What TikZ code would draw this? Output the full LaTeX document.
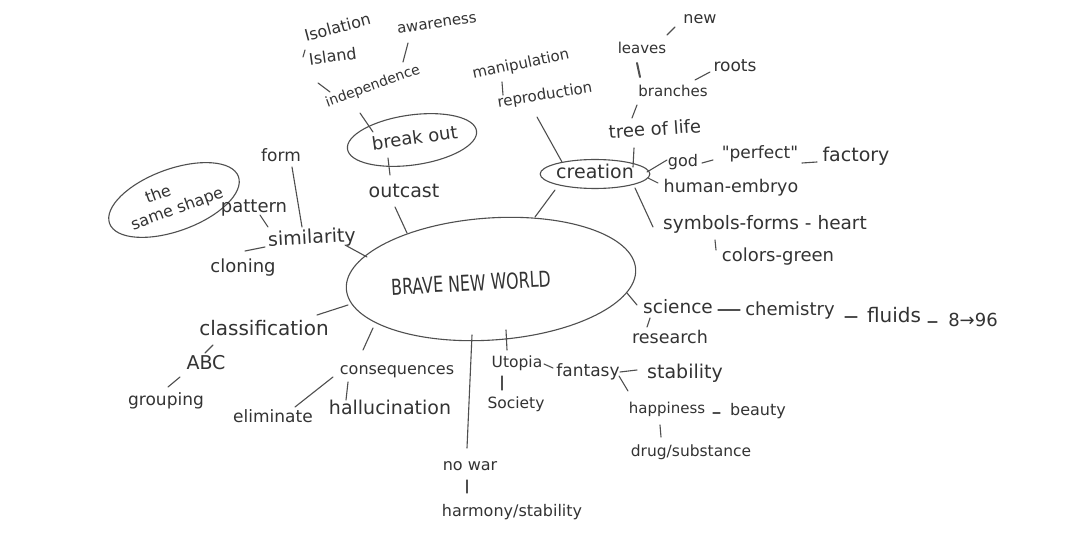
\documentclass[tikz,border=0pt]{standalone}
\usepackage{fontspec}
\setmainfont{DejaVu Sans}
\usetikzlibrary{shapes.geometric,calc}
\definecolor{ink}{HTML}{333333}
\definecolor{pen}{HTML}{4F4F4F}
\begin{document}
\begin{tikzpicture}[x=1pt,y=-1pt,
  lbl/.style={inner sep=1pt, text=ink},
  fs/.style={font=\fontsize{#1}{#1}\selectfont, text height={#1*0.72}, text depth={#1*0.22}},
  con/.style={draw=pen, line width=1.1pt, line cap=round},
  bubble/.style={draw=pen, line width=1.1pt, ellipse, inner sep=0pt, text=ink}
]
\fill[white] (0,0) rectangle (1080,540);
\useasboundingbox (0,0) rectangle (1080,540);

% central node
\node[bubble, minimum width=290pt, minimum height=122pt, rotate=4] (bnw) at (491,279) {};
\node[lbl, rotate=3, font=\fontsize{22}{22}\selectfont\addfontfeature{FakeStretch=0.72}] (bnwt) at (471,283) {BRAVE NEW WORLD};

% upper left
\node[lbl, fs=16, rotate=15] (iso) at (338,29) {Isolation};
\node[lbl, fs=16, rotate=8] (isl) at (333,58) {Island};
\node[lbl, fs=15, rotate=8] (aware) at (437,24) {awareness};
\node[lbl, fs=14, rotate=20] (indep) at (373,87) {independence};
\node[bubble, fs=18, minimum width=122pt, minimum height=50pt, rotate=8] (brk) at (412,140) {\hspace*{6pt}break out};
\node[lbl, fs=19] (out) at (404,193) {outcast};

% left
\node[lbl, fs=17] (form) at (281,157) {form};
\node[bubble, minimum width=130pt, minimum height=62pt, rotate=20, align=center, font=\fontsize{16}{20}\selectfont] (same) at (174,200) {the\hspace*{26pt}\\same shape};
\node[lbl, fs=18] (pat) at (254,208) {pattern};
\node[lbl, fs=19, rotate=3] (sim) at (312,239) {similarity};
\node[lbl, fs=18] (clon) at (243,268) {cloning};
\node[lbl, fs=20] (cls) at (264,330) {classification};
\node[lbl, fs=19] (abc) at (206,365) {ABC};
\node[lbl, fs=17] (grp) at (166,401) {grouping};

% lower
\node[lbl, fs=16] (cons) at (397,370) {consequences};
\node[lbl, fs=17] (elim) at (273,418) {eliminate};
\node[lbl, fs=19] (hall) at (390,410) {hallucination};
\node[lbl, fs=16] (nowar) at (470,466) {no war};
\node[lbl, fs=16] (harm) at (512,512) {harmony/stability};
\node[lbl, fs=15.5] (uto) at (517,364) {Utopia};
\node[lbl, fs=15.5] (soc) at (516,405) {Society};
\node[lbl, fs=17] (fan) at (588,372) {fantasy};
\node[lbl, fs=19] (stab) at (685,374) {stability};
\node[lbl, fs=15] (hap) at (667,410) {happiness};
\node[lbl, fs=16] (beauty) at (758,411) {beauty};
\node[lbl, fs=15.5] (drug) at (691,453) {drug/substance};

% right
\node[lbl, fs=18.5] (sci) at (678,309) {science};
\node[lbl, fs=17.5] (res) at (670,339) {research};
\node[lbl, fs=18] (chem) at (790,311) {chemistry};
\node[lbl, fs=20] (flu) at (894,318) {fluids};
\node[lbl, fs=18] (num) at (973,322) {8→96};

% upper right
\node[lbl, fs=15, rotate=12] (manip) at (521,65) {manipulation};
\node[lbl, fs=15, rotate=9] (repro) at (545,96) {reproduction};
\node[bubble, fs=19, minimum width=105pt, minimum height=29pt] (crea) at (595,174) {creation};
\node[lbl, fs=15] (leaves) at (642,50) {leaves};
\node[lbl, fs=16] (new) at (700,20) {new};
\node[lbl, fs=17] (roots) at (735,67) {roots};
\node[lbl, fs=15] (branch) at (673,93) {branches};
\node[lbl, fs=18, rotate=4] (tree) at (655,131) {tree of life};
\node[lbl, fs=16] (god) at (683,163) {god};
\node[lbl, fs=17] (perf) at (760,154) {\textquotedbl perfect\textquotedbl};
\node[lbl, fs=19] (fact) at (856,157) {factory};
\node[lbl, fs=17.5] (human) at (731,188) {human-embryo};
\node[lbl, fs=18.5] (sym) at (765,225) {symbols-forms - heart};
\node[lbl, fs=18] (col) at (778,257) {colors-green};

% connectors
\draw[con] ($(iso)+(-33,21)$) -- ($(isl)+(-30,-1)$);
\draw[con] ($(isl)+(-15,25)$) -- ($(indep)+(-43,5)$);
\draw[con] ($(aware)+(-29,19)$) -- ($(indep)+(30,-25)$);
\draw[con] ($(indep)+(-13,26)$) -- ($(brk)+(-39,-8)$);
\draw[con] ($(brk)+(-24,18)$) -- ($(out)+(-14,-18)$);
\draw[con] ($(out)+(-9,14)$) -- ($(bnw)+(-84,-46)$);
\draw[con] ($(form)+(11,10)$) -- ($(sim)+(-10,-12)$);
\draw[con] ($(pat)+(6,7)$) -- ($(sim)+(-44,-12)$);
\draw[con] ($(clon)+(2,-17)$) -- ($(sim)+(-47,8)$);
\draw[con] ($(sim)+(33,6)$) -- ($(bnw)+(-124,-22)$);
\draw[con] ($(cls)+(53,-15)$) -- ($(bnw)+(-143,26)$);
\draw[con] ($(cls)+(-51,15)$) -- ($(abc)+(-1,-12)$);
\draw[con] ($(abc)+(-26,12)$) -- ($(grp)+(2,-14)$);
\draw[con] ($(cons)+(-34,-20)$) -- ($(bnw)+(-118,49)$);
\draw[con] ($(cons)+(-64,7)$) -- ($(elim)+(22,-11)$);
\draw[con] ($(cons)+(-49,12)$) -- ($(hall)+(-44,-10)$);
\draw[con] ($(bnw)+(-19,56)$) -- ($(nowar)+(-3,-18)$);
\draw[con] ($(nowar)+(-3,14)$) -- ($(harm)+(-45,-19)$);
\draw[con] ($(bnw)+(15,51)$) -- ($(uto)+(-10,-14)$);
\draw[con] ($(uto)+(-15,12)$) -- ($(soc)+(-14,-15)$);
\draw[con] ($(uto)+(27,0)$) -- ($(fan)+(-35,-4)$);
\draw[con] ($(fan)+(32,0)$) -- ($(stab)+(-48,-4)$);
\draw[con] ($(fan)+(31,4)$) -- ($(hap)+(-39,-19)$);
\draw[con] ($(hap)+(46,3)$) -- ($(beauty)+(-38,2)$);
\draw[con] ($(hap)+(-7,15)$) -- ($(drug)+(-30,-16)$);
\draw[con] ($(bnw)+(136,14)$) -- ($(sci)+(-41,-4)$);
\draw[con] ($(sci)+(-28,9)$) -- ($(res)+(-23,-12)$);
\draw[con] ($(sci)+(40,1)$) -- ($(chem)+(-50,-1)$);
\draw[con] ($(chem)+(55,6)$) -- ($(flu)+(-37,-1)$);
\draw[con] ($(flu)+(34,4)$) -- ($(num)+(-36,0)$);
\draw[con] ($(bnw)+(44,-62)$) -- ($(crea)+(-40,16)$);
\draw[con] ($(repro)+(-8,21)$) -- ($(crea)+(-33,-12)$);
\draw[con] ($(manip)+(-19,17)$) -- ($(repro)+(-42,-1)$);
\draw[con] ($(tree)+(-21,17)$) -- ($(crea)+(38,-7)$);
\draw[con] ($(branch)+(-36,12)$) -- ($(tree)+(-23,-13)$);
\draw[con, line width=2pt] ($(leaves)+(-5,13)$) -- ($(branch)+(-33,-16)$);
\draw[con] ($(leaves)+(25,-15)$) -- ($(new)+(-25,7)$);
\draw[con] ($(branch)+(22,-13)$) -- ($(roots)+(-25,5)$);
\draw[con] ($(crea)+(52,-2)$) -- ($(god)+(-16,-3)$);
\draw[con] ($(god)+(19,0)$) -- ($(perf)+(-47,6)$);
\draw[con] ($(perf)+(42,9)$) -- ($(fact)+(-39,5)$);
\draw[con] ($(crea)+(53,4)$) -- ($(human)+(-73,-5)$);
\draw[con] ($(crea)+(40,14)$) -- ($(sym)+(-112,2)$);
\draw[con] ($(sym)+(-50,15)$) -- ($(col)+(-62,-7)$);
\end{tikzpicture}
\end{document}
